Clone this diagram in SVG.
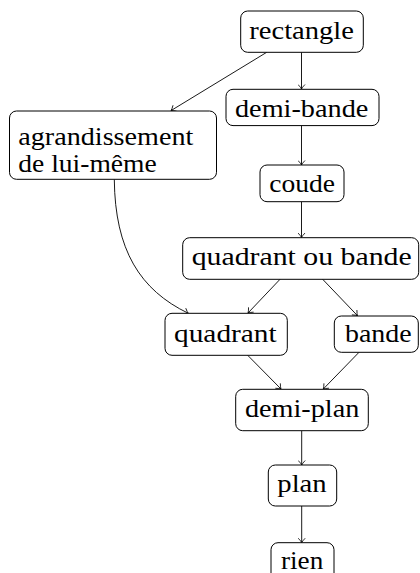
<svg xmlns="http://www.w3.org/2000/svg" width="420" height="573" viewBox="0 0 420 573">
<defs>
<marker id="arr" viewBox="-5 -4 6 8" refX="0" refY="0" markerWidth="6" markerHeight="8" markerUnits="userSpaceOnUse" orient="auto">
<path d="M-4.5,-3.5 Q-1.5,-0.6 0,0 Q-1.5,0.6 -4.5,3.5" fill="none" stroke="#000" stroke-width="0.8"/>
</marker>
</defs>
<style>
rect{fill:#fff;stroke:#000;stroke-width:1}
text{font-family:'Liberation Serif','Times New Roman',serif;font-size:25px;fill:#000}
.e{fill:none;stroke:#000;stroke-width:0.9;marker-end:url(#arr)}
</style>
<rect width="420" height="573" style="fill:#fff;stroke:none"/>
<g id="edges">
<path class="e" d="M266.7,52.3 L171,110.6"/>
<path class="e" d="M301.5,52.3 L301.5,89"/>
<path class="e" d="M301.5,125.5 L301.5,165"/>
<path class="e" d="M301.5,201.5 L301.5,237.5"/>
<path class="e" d="M280,279.3 L248,313"/>
<path class="e" d="M322.7,279.3 L357.5,315.7"/>
<path class="e" d="M114.3,179.5 C115,250 140,290 188.3,313.3"/>
<path class="e" d="M247.7,355.3 L281,389"/>
<path class="e" d="M359,352.3 L323.3,389"/>
<path class="e" d="M301.7,430.7 L301.7,465"/>
<path class="e" d="M301.7,506 L301.7,542.7"/>
</g>
<g id="rectangle"><rect x="240.7" y="11" width="122.6" height="41.3" rx="7"/><text x="249.3" y="39.3" textLength="104.7" lengthAdjust="spacingAndGlyphs">rectangle</text></g>
<g id="demi-bande"><rect x="226" y="89.3" width="153" height="36.3" rx="7"/><text x="235" y="116.7" textLength="133.3" lengthAdjust="spacingAndGlyphs">demi-bande</text></g>
<g id="agrandissement"><rect x="9.5" y="111" width="207" height="68.3" rx="7"/><text x="18.3" y="145" textLength="175" lengthAdjust="spacingAndGlyphs">agrandissement</text><text x="18.3" y="171.7" textLength="138.4" lengthAdjust="spacingAndGlyphs">de lui-même</text></g>
<g id="coude"><rect x="260" y="165" width="84" height="36.7" rx="7"/><text x="269.3" y="191.7" textLength="65.7" lengthAdjust="spacingAndGlyphs">coude</text></g>
<g id="quadrant-ou-bande"><rect x="182.7" y="237.7" width="236" height="41.6" rx="7"/><text x="191.7" y="265" textLength="220" lengthAdjust="spacingAndGlyphs">quadrant ou bande</text></g>
<g id="quadrant"><rect x="165" y="313.3" width="122.3" height="42" rx="7"/><text x="174" y="341.7" textLength="102.7" lengthAdjust="spacingAndGlyphs">quadrant</text></g>
<g id="bande"><rect x="334.3" y="316" width="84" height="36.3" rx="7"/><text x="345" y="341.7" textLength="66.7" lengthAdjust="spacingAndGlyphs">bande</text></g>
<g id="demi-plan"><rect x="235.7" y="389.3" width="132.6" height="41.4" rx="7"/><text x="245" y="416.7" textLength="114.3" lengthAdjust="spacingAndGlyphs">demi-plan</text></g>
<g id="plan"><rect x="268.3" y="465" width="68.4" height="41" rx="7"/><text x="277.3" y="491.7" textLength="49.4" lengthAdjust="spacingAndGlyphs">plan</text></g>
<g id="rien"><rect x="271" y="542.7" width="63" height="40" rx="7"/><text x="281" y="568.5" textLength="42.3" lengthAdjust="spacingAndGlyphs">rien</text></g>
</svg>
